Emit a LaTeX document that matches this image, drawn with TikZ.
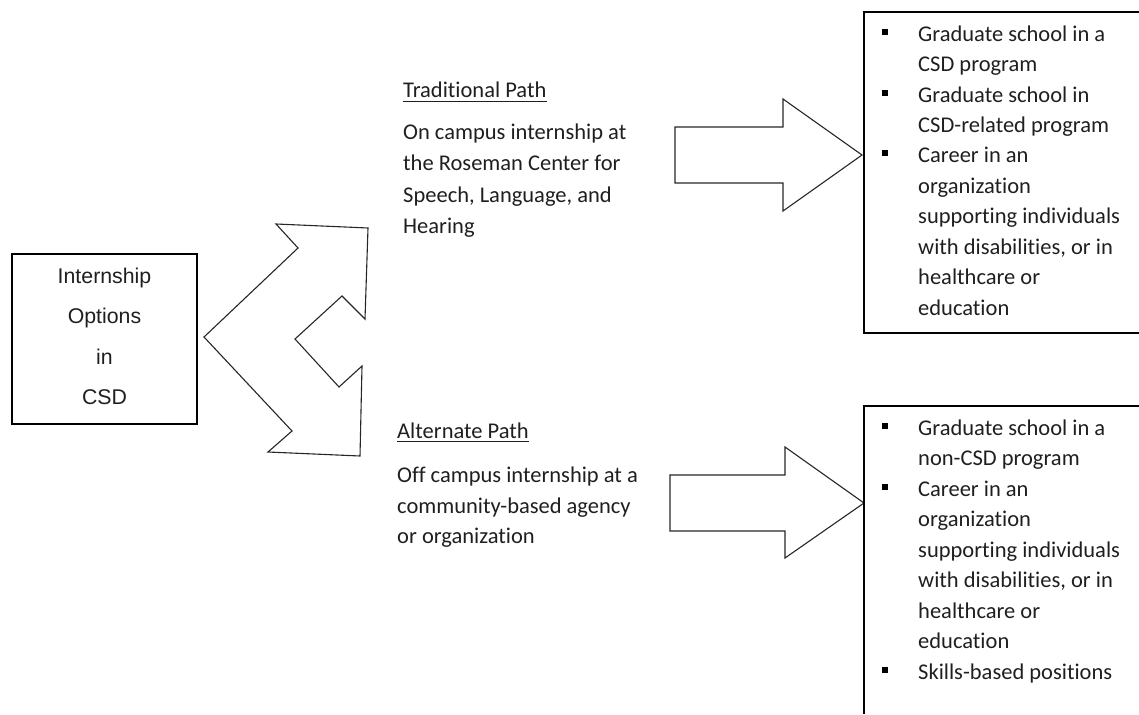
\documentclass[tikz,border=0pt]{standalone}
\usepackage{fontspec}
\newfontfamily\calfont[Ligatures=NoCommon]{Carlito}
\newfontfamily\arifont{Liberation Sans}
\begin{document}
\begin{tikzpicture}[x=1pt,y=-1pt,
  shapeline/.style={draw=black!85,line width=1.1pt,line join=miter},
  boxline/.style={draw=black,line width=1.3pt},
  caltext/.style={inner sep=0pt,anchor=base west,text=black!88,font=\calfont\fontsize{22.5}{27}\selectfont},
  aritext/.style={inner sep=0pt,anchor=base,text=black!88,font=\arifont\fontsize{21.3}{25}\selectfont},
  bul/.style={fill=black,draw=none,minimum size=6pt,inner sep=0pt}]
\useasboundingbox (0,0) rectangle (1139,714);
% left box
\node[boxline,minimum width=185pt,minimum height=170pt,inner sep=0pt] (box) at (104.5,339) {};
\node[aritext] (l1) at (104.5,283) {Internship};
\node[aritext] (l2) at (104.5,323) {Options};
\node[aritext] (l3) at (104.5,364) {in};
\node[aritext] (l4) at (104.5,404) {CSD};
% forked arrow
\draw[shapeline] (204,337) -- (298,248) -- (276,224) -- (368,228) -- (365,319) -- (342,296)
  -- (295,339) -- (339,387) -- (362,366) -- (360,456) -- (268,452) -- (292,431) -- cycle;
% middle texts
\node[caltext] (tp) at (403,98) {Traditional Path};
\draw[black!88,line width=0.9pt] ([yshift=-3.5pt]tp.base west) -- ([yshift=-3.5pt]tp.base east);
\node[caltext] (t1) at (403,140) {On campus internship at};
\node[caltext] (t2) at (403,171) {the Roseman Center for};
\node[caltext] (t3) at (403,202) {Speech, Language, and};
\node[caltext] (t4) at (403,233) {Hearing};
\node[caltext] (ap) at (397,438) {Alternate Path};
\draw[black!88,line width=0.9pt] ([yshift=-3.5pt]ap.base west) -- ([yshift=-3.5pt]ap.base east);
\node[caltext] (a1) at (397,482) {Off campus internship at a};
\node[caltext] (a2) at (397,513) {community-based agency};
\node[caltext] (a3) at (397,543) {or organization};
% block arrows
\draw[shapeline] (675,127) -- (783,127) -- (783,99) -- (862,155) -- (783,211) -- (783,183) -- (675,183) -- cycle;
\draw[shapeline] (670,475) -- (785,475) -- (785,447) -- (864,503) -- (785,558) -- (785,531) -- (670,531) -- cycle;
% right boxes
\draw[boxline] (1139,12) -- (864,12) -- (864,333) -- (1139,333);
\draw[boxline] (1139,406) -- (864,406) -- (864,714);
% upper list
\foreach \t/\yy [count=\i] in {Graduate school in a/41.5, CSD program/72, Graduate school in/102.3, CSD-related program/132.7, Career in an/163, organization/193.4, supporting individuals/223.8, {with disabilities, or in}/254.2, healthcare or/284.6, education/315}
  \node[caltext] (u\i) at (918,\yy) {\t};
\node[bul] (ub1) at (885,32) {};
\node[bul] (ub2) at (885,92.6) {};
\node[bul] (ub3) at (885,153.3) {};
% lower list
\foreach \t/\yy [count=\i] in {Graduate school in a/435, non-CSD program/465.5, Career in an/496, organization/526.5, supporting individuals/557, {with disabilities, or in}/587.5, healthcare or/618, education/648.5, Skills-based positions/679}
  \node[caltext] (w\i) at (918,\yy) {\t};
\node[bul] (wb1) at (885,425.5) {};
\node[bul] (wb2) at (885,486.5) {};
\node[bul] (wb3) at (885,669.5) {};
\end{tikzpicture}
\end{document}
